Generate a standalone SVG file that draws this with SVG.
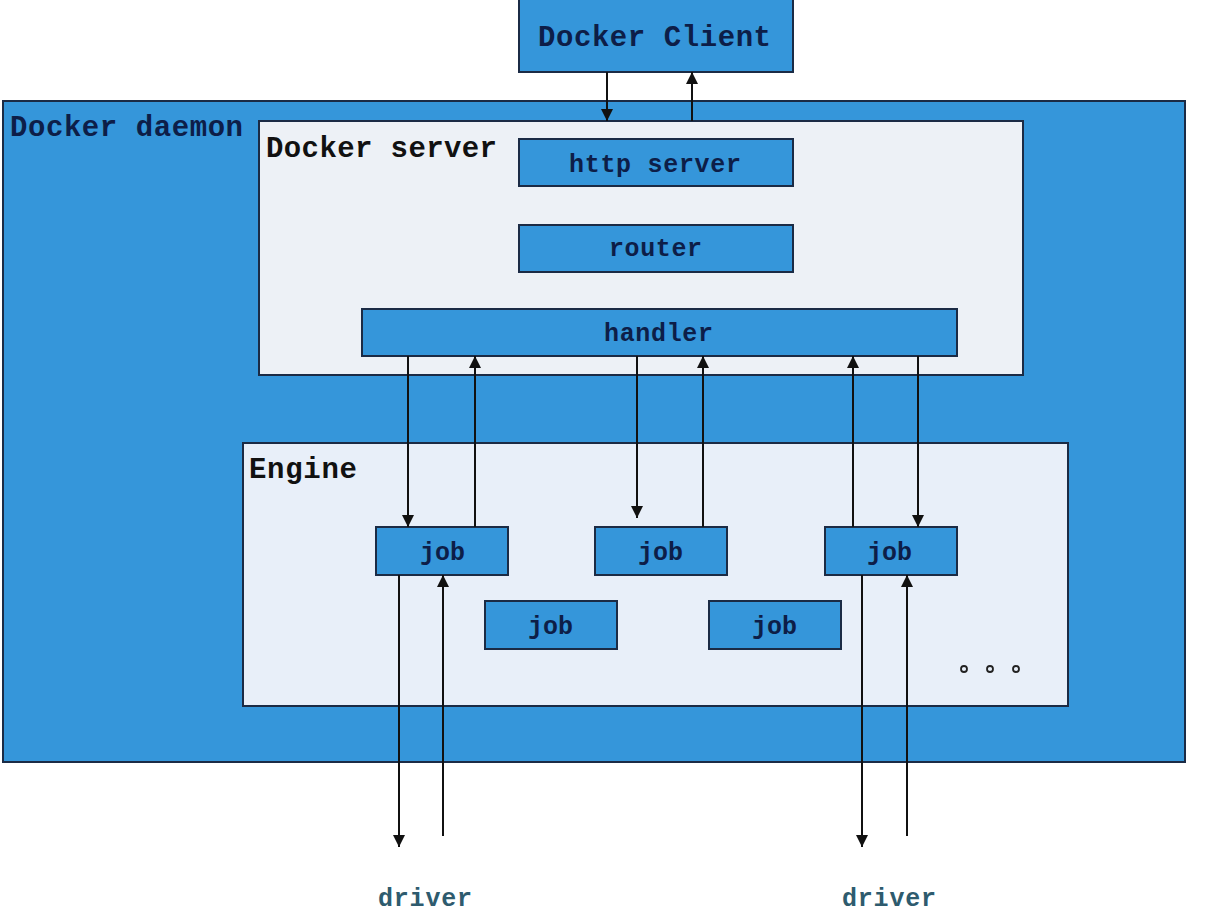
<svg xmlns="http://www.w3.org/2000/svg" width="1232" height="924" viewBox="0 0 1232 924">
<style>
.blue{fill:#3596da;stroke:#1b2b45;stroke-width:2}
.pale{fill:#edf1f6;stroke:#1b2b45;stroke-width:2}
.eng{fill:#e8eff9;stroke:#1b2b45;stroke-width:2}
.big{font-family:"Liberation Mono",monospace;font-size:29px;font-weight:bold;fill:#0d1e48}
.lbl{font-family:"Liberation Mono",monospace;font-size:25px;font-weight:bold;fill:#0d1e48}
.blk{fill:#111}
.drv{font-family:"Liberation Mono",monospace;font-size:25px;font-weight:bold;fill:#2e5b6e}
.ln{stroke:#111;stroke-width:2;fill:none}
</style>
<defs>
<marker id="ah" viewBox="0 0 10 10" refX="10" refY="5" markerWidth="6" markerHeight="6" markerUnits="strokeWidth" orient="auto">
<path d="M0,0 L10,5 L0,10 z" fill="#111"/>
</marker>
</defs>
<rect width="1232" height="924" fill="#ffffff"/>
<g id="daemon"><rect class="blue" x="3" y="101" width="1182" height="661"/><text class="big" x="10" y="136" textLength="233">Docker daemon</text></g>
<g id="client"><rect class="blue" x="519" y="-2" width="274" height="74"/><text class="big" x="538" y="46" textLength="233">Docker Client</text></g>
<g id="server"><rect class="pale" x="259" y="121" width="764" height="254"/><text class="big blk" x="266" y="157" textLength="231">Docker server</text></g>
<g id="http"><rect class="blue" x="519" y="139" width="274" height="47"/><text class="lbl" x="569" y="172" textLength="172">http server</text></g>
<g id="router"><rect class="blue" x="519" y="225" width="274" height="47"/><text class="lbl" x="609" y="256" textLength="93">router</text></g>
<g id="handler"><rect class="blue" x="362" y="309" width="595" height="47"/><text class="lbl" x="604" y="341" textLength="109">handler</text></g>
<g id="engine"><rect class="eng" x="243" y="443" width="825" height="263"/><text class="big blk" x="249" y="478" textLength="108">Engine</text>
<circle cx="964" cy="669" r="3" fill="none" stroke="#222" stroke-width="1.8"/><circle cx="990" cy="669" r="3" fill="none" stroke="#222" stroke-width="1.8"/><circle cx="1016" cy="669" r="3" fill="none" stroke="#222" stroke-width="1.8"/></g>
<g id="job1"><rect class="blue" x="376" y="527" width="132" height="48"/><text class="lbl" x="420" y="560" textLength="45">job</text></g>
<g id="job2"><rect class="blue" x="595" y="527" width="132" height="48"/><text class="lbl" x="638" y="560" textLength="45">job</text></g>
<g id="job3"><rect class="blue" x="825" y="527" width="132" height="48"/><text class="lbl" x="867" y="560" textLength="45">job</text></g>
<g id="job4"><rect class="blue" x="485" y="601" width="132" height="48"/><text class="lbl" x="528" y="634" textLength="45">job</text></g>
<g id="job5"><rect class="blue" x="709" y="601" width="132" height="48"/><text class="lbl" x="752" y="634" textLength="45">job</text></g>
<g id="driver1"><text class="drv" x="378" y="906" textLength="94">driver</text></g>
<g id="driver2"><text class="drv" x="842" y="906" textLength="94">driver</text></g>
<g id="connectors">
<line class="ln" x1="607" y1="72" x2="607" y2="121" marker-end="url(#ah)"/>
<line class="ln" x1="692" y1="121" x2="692" y2="72" marker-end="url(#ah)"/>
<line class="ln" x1="408" y1="356" x2="408" y2="527" marker-end="url(#ah)"/>
<line class="ln" x1="475" y1="527" x2="475" y2="356" marker-end="url(#ah)"/>
<line class="ln" x1="637" y1="356" x2="637" y2="518" marker-end="url(#ah)"/>
<line class="ln" x1="703" y1="527" x2="703" y2="356" marker-end="url(#ah)"/>
<line class="ln" x1="853" y1="527" x2="853" y2="356" marker-end="url(#ah)"/>
<line class="ln" x1="918" y1="356" x2="918" y2="527" marker-end="url(#ah)"/>
<line class="ln" x1="399" y1="575" x2="399" y2="847" marker-end="url(#ah)"/>
<line class="ln" x1="443" y1="836" x2="443" y2="575" marker-end="url(#ah)"/>
<line class="ln" x1="862" y1="575" x2="862" y2="847" marker-end="url(#ah)"/>
<line class="ln" x1="907" y1="836" x2="907" y2="575" marker-end="url(#ah)"/>
</g>
</svg>
